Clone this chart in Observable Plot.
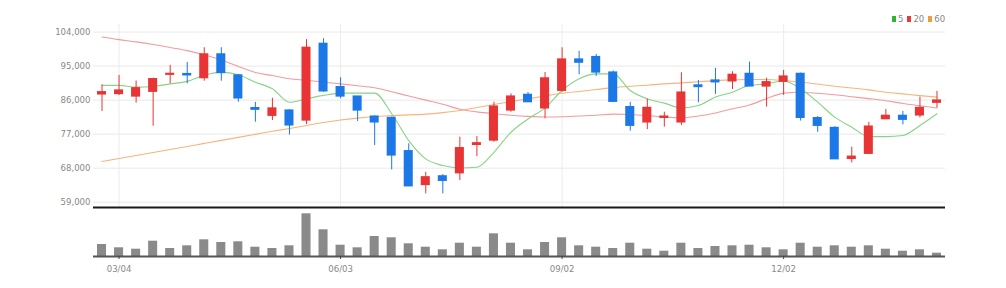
<!DOCTYPE html>
<html><head><meta charset="utf-8">
<script src="https://cdn.jsdelivr.net/npm/d3@7"></script>
<script src="https://cdn.jsdelivr.net/npm/@observablehq/plot@0.6"></script>
<style>
body{margin:0;background:#fff;}
#wrap{position:relative;width:1006px;height:288px;font-family:"Liberation Sans Narrow","DejaVu Sans Condensed",sans-serif;}
#price{position:absolute;left:0;top:0;}
#vol{position:absolute;left:0;top:210px;}
#legend{position:absolute;top:13px;left:892px;font-size:9.5px;color:#888;display:flex;align-items:center;white-space:nowrap;}
#legend span.sw{display:inline-block;width:4px;height:6px;margin-right:2px;}
#legend span.t{margin-right:4px;}
</style></head><body>
<div id="wrap"><div id="price"></div><div id="vol"></div><div id="legend"></div></div>
<script>
const dates = ["02/25","03/04","03/11","03/18","03/25","04/01","04/08","04/15","04/22","04/29","05/06","05/13","05/20","05/27","06/03","06/10","06/17","06/24","07/01","07/08","07/15","07/22","07/29","08/05","08/12","08/19","08/26","09/02","09/09","09/16","09/23","09/30","10/07","10/14","10/21","10/28","11/04","11/11","11/18","11/25","12/02","12/09","12/16","12/23","12/30","01/06","01/13","01/20","01/27","02/03"];
const open  = [87500,87600,86950,88200,92700,92900,91800,98100,92550,83900,81850,83250,80600,100900,89450,86950,81650,81300,72500,63550,65850,66650,74150,75300,83250,87400,83800,88450,96750,97400,93300,84150,80100,81300,80100,89900,91200,90950,92950,89600,90850,92950,81250,78650,70450,71800,80950,81850,81950,85300];
const high  = [90050,92550,91050,91800,95200,95950,99850,99850,92800,85400,86500,83450,102000,102250,91900,86950,81850,81500,74450,66900,66300,76200,76350,85450,87650,88000,93300,99850,98900,98100,93700,85400,86250,82800,93250,91200,94400,93500,96050,91800,93850,93150,81650,78950,73550,80100,83500,83000,86800,88300];
const low   = [83000,87200,85200,79100,90300,90300,91000,91000,85450,80150,80600,76800,79550,88100,86350,80350,74000,67550,63200,61200,61200,64700,71050,74850,82800,85450,81050,88100,92700,92250,85350,77800,78200,78850,79300,85300,87500,88800,89600,84150,87250,80450,77500,70300,69400,71600,80850,79450,81300,83900];
const close = [88100,88550,89150,91550,92950,92550,98100,93150,86450,83450,83800,79300,99850,88300,86950,83250,80100,71350,63200,65600,64650,73300,74600,84300,86950,85450,91750,96750,95900,93300,85550,79200,83950,81650,88000,89450,90700,92700,89600,90750,92250,81300,79200,70350,71050,79000,81850,80800,83950,85900];
const volume = [120,87,73,153,80,107,167,140,147,93,80,107,427,267,113,87,200,187,127,93,67,133,93,227,133,67,140,187,107,93,80,133,73,53,133,80,100,107,113,87,67,133,93,107,93,107,73,53,67,33];
const ma5  = [89900,89900,89450,89600,90300,90950,92550,93400,92700,90750,89000,85450,86350,87250,87850,87850,87850,82400,75300,70450,68700,68050,68250,72200,77500,81000,83950,88550,91650,92950,92950,88550,86350,85200,83950,84600,86800,88100,89900,90300,91050,89000,85450,81500,78850,76350,76350,76650,79300,82400];
const ma20 = [102700,102000,101400,100700,99900,99100,98000,96600,94900,93300,92500,91650,91250,90750,90300,89800,89250,88200,87100,86000,84900,83600,82900,82400,82000,81700,81550,81600,81800,82000,82300,82200,81900,81500,81300,81800,82600,83700,84700,86400,87850,88100,87800,87400,86900,86400,85850,85100,84500,83900];
const ma60 = [69750,70550,71350,72150,72950,73750,74550,75350,76150,76950,77750,78500,79300,80100,80750,81250,81650,81900,82100,82300,82700,83250,84050,84850,85600,86350,87100,87800,88300,88800,89300,89650,89950,90300,90550,90850,91150,91350,91450,91450,91200,90800,90250,89650,89200,88700,88100,87650,87200,86800];
const priceTicks = [59000,68000,77000,86000,95000,104000];
const dateTicks = ["03/04","06/03","09/02","12/02"];
const legendItems = [["5","#2fb52f"],["20","#e83a3a"],["60","#f39a3c"]];

const RED = "#e83434", BLUE = "#1b78e6";
const rows = dates.map((d,i)=>({i, date:d, open:open[i], high:high[i], low:low[i], close:close[i], volume:volume[i], ma5:ma5[i], ma20:ma20[i], ma60:ma60[i]}));
const tickIdx = dateTicks.map(d=>dates.indexOf(d));
const xDomain = [-0.5, dates.length-0.5];
const priceDomain = [57600,106000];
const font = '"Liberation Sans Narrow","DejaVu Sans Condensed",sans-serif';
const col = r => r.close >= r.open ? RED : BLUE;

const pricePlot = Plot.plot({
  width:1006, height:210, marginLeft:93, marginRight:61, marginTop:24, marginBottom:3,
  x:{domain:xDomain, axis:null},
  y:{domain:priceDomain},
  color:{type:"identity"},
  style:{fontFamily:font, fontSize:"9.5px", color:"#888", background:"transparent"},
  marks:[
    Plot.gridY({ticks:priceTicks, stroke:"#e9e9e9", strokeOpacity:1}),
    Plot.gridX({ticks:tickIdx, stroke:"#ececec", strokeOpacity:1}),
    Plot.axisY({ticks:priceTicks, tickFormat:d3.format(","), tickSize:0, tickPadding:3, fill:"#888", label:null}),
    Plot.line(rows,{x:"i", y:"ma60", stroke:"#f7b47c", strokeWidth:1.1, curve:"monotone-x"}),
    Plot.line(rows,{x:"i", y:"ma20", stroke:"#f39b9d", strokeWidth:1.1, curve:"monotone-x"}),
    Plot.line(rows,{x:"i", y:"ma5", stroke:"#86d486", strokeWidth:1.1, curve:"monotone-x"}),
    Plot.ruleX(rows,{x:"i", y1:"low", y2:"high", stroke:col, strokeWidth:1}),
    Plot.rect(rows,{x1:d=>d.i-0.5, x2:d=>d.i+0.5, y1:"open", y2:"close", insetLeft:4, insetRight:4, insetTop:-0.6, insetBottom:-0.6, fill:col}),
    Plot.ruleY([priceDomain[0]],{stroke:"#1a1a1a", strokeWidth:2})
  ]
});
document.getElementById("price").appendChild(pricePlot);

const volPlot = Plot.plot({
  width:1006, height:78, marginLeft:93, marginRight:61, marginTop:3, marginBottom:32,
  x:{domain:xDomain},
  y:{domain:[0,430], axis:null},
  style:{fontFamily:font, fontSize:"9.5px", color:"#888", background:"transparent"},
  marks:[
    Plot.rect(rows,{x1:d=>d.i-0.5, x2:d=>d.i+0.5, y1:0, y2:"volume", insetLeft:4, insetRight:4, fill:"#8a8a8a"}),
    Plot.ruleY([0],{stroke:"#555", strokeWidth:2}),
    Plot.axisX({ticks:tickIdx, tickFormat:i=>dates[i], tickSize:3, tickPadding:6, stroke:"#444", fill:"#888", label:null})
  ]
});
document.getElementById("vol").appendChild(volPlot);

const lg = document.getElementById("legend");
legendItems.forEach(([t,c])=>{
  const s=document.createElement("span"); s.className="sw"; s.style.background=c; lg.appendChild(s);
  const tx=document.createElement("span"); tx.className="t"; tx.textContent=t; lg.appendChild(tx);
});
</script>
</body></html>
